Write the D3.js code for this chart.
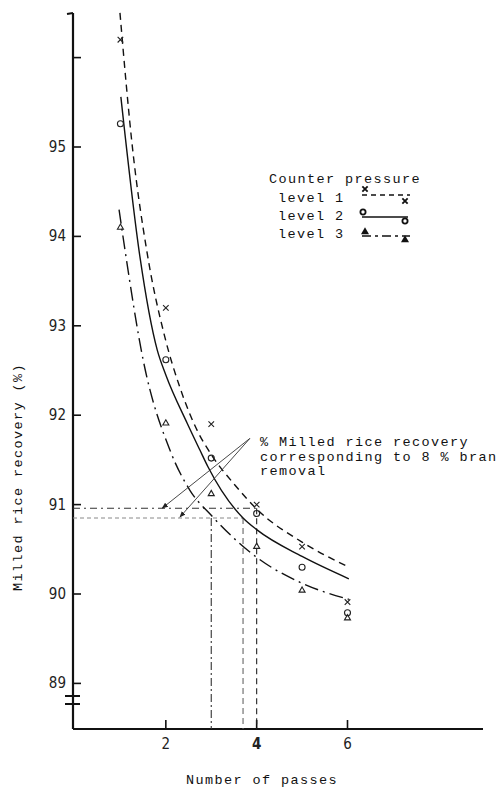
<!DOCTYPE html>
<html>
<head>
<meta charset="utf-8">
<script src="https://cdn.jsdelivr.net/npm/d3@7"></script>
<style>
  body { margin: 0; background: #fff; }
  svg { display: block; }
  .mono { font-family: "Liberation Mono", "Courier New", monospace; font-size: 13.5px; letter-spacing: 1.4px; fill: #111; }
  .tick-label { font-family: "DejaVu Sans Condensed", "DejaVu Sans", sans-serif; font-size: 15px; fill: #222; }
</style>
</head>
<body>
<script>
  // measured points
  var passes = [1, 2, 3, 4, 5, 6];
  var level1 = [96.2, 93.2, 91.9, 91.0, 90.53, 89.91];
  var level2 = [95.26, 92.62, 91.52, 90.9, 90.3, 89.79];
  var level3 = [94.1, 91.91, 91.12, 90.53, 90.04, 89.73];

  // fitted curves
  var curve1X = [0.99, 1.27, 1.59, 1.98, 2.31, 2.69, 3.0, 3.52, 4.0, 5.0, 6.03];
  var curve1Y = [96.5, 94.97, 93.81, 92.87, 92.31, 91.83, 91.56, 91.22, 90.95, 90.58, 90.3];
  var curve2X = [1.01, 1.43, 1.81, 2.0, 2.47, 2.75, 2.93, 3.7, 4.0, 5.0, 6.03];
  var curve2Y = [95.56, 93.77, 92.73, 92.45, 91.91, 91.61, 91.42, 90.85, 90.72, 90.42, 90.17];
  var curve3X = [0.97, 1.1, 1.5, 2.09, 2.53, 3.0, 4.0, 5.0, 6.03];
  var curve3Y = [94.3, 93.85, 92.62, 91.61, 91.16, 90.88, 90.41, 90.12, 89.94];

  // 8 % bran removal guides
  var branLevels = [90.96, 90.85];
  var branPasses = [4.0, 3.7, 3.0];
  var branFrom = [90.96, 90.85, 90.85];
  var arrowApex = [3.85, 91.74];
  var arrowEnds = [[1.92, 90.96], [2.31, 90.86]];

  var yTicks = [89, 90, 91, 92, 93, 94, 95, 96];
  var yLabels = ['89', '90', '91', '92', '93', '94', '95', ''];
  var xTicks = [2, 4, 6];

  var width = 500, height = 794;

  var svg = d3.select('body').append('svg')
    .attr('width', width)
    .attr('height', height);

  var x = d3.scaleLinear().domain([0, 6]).range([75, 347.5]);
  var y = d3.scaleLinear().domain([90, 95]).range([594, 147]);

  var axisX = 73, axisY = 729;

  // y axis
  svg.append('line')
    .attr('x1', axisX).attr('y1', 13)
    .attr('x2', axisX).attr('y2', axisY)
    .attr('stroke', '#111').attr('stroke-width', 2.2);
  svg.append('line')
    .attr('x1', axisX - 6).attr('y1', 14)
    .attr('x2', axisX).attr('y2', 13)
    .attr('stroke', '#111').attr('stroke-width', 2);

  // axis break
  [696, 704].forEach(function(by) {
    svg.append('line')
      .attr('x1', axisX - 8).attr('y1', by)
      .attr('x2', axisX + 7).attr('y2', by)
      .attr('stroke', '#111').attr('stroke-width', 2);
  });

  var yTick = svg.append('g').selectAll('g')
    .data(yTicks)
    .enter().append('g');

  yTick.append('line')
    .attr('x1', axisX).attr('x2', axisX + 8)
    .attr('y1', function(d) { return y(d); })
    .attr('y2', function(d) { return y(d); })
    .attr('stroke', '#111').attr('stroke-width', 1.6);

  yTick.append('text')
    .attr('class', 'tick-label')
    .attr('x', 66)
    .attr('y', function(d) { return y(d) + 5; })
    .attr('text-anchor', 'end')
    .text(function(d, i) { return yLabels[i]; });

  // x axis
  svg.append('line')
    .attr('x1', axisX).attr('y1', axisY)
    .attr('x2', 483).attr('y2', axisY)
    .attr('stroke', '#111').attr('stroke-width', 2.2);

  var xTick = svg.append('g').selectAll('g')
    .data(xTicks)
    .enter().append('g');

  xTick.append('line')
    .attr('x1', function(d) { return x(d); })
    .attr('x2', function(d) { return x(d); })
    .attr('y1', axisY).attr('y2', axisY - 9)
    .attr('stroke', '#111').attr('stroke-width', 1.6);

  xTick.append('text')
    .attr('class', 'tick-label')
    .attr('x', function(d) { return x(d); })
    .attr('y', 749)
    .attr('text-anchor', 'middle')
    .style('font-weight', function(d) { return d === 4 ? 'bold' : 'normal'; })
    .text(function(d) { return d; });

  // axis titles
  svg.append('text')
    .attr('class', 'mono')
    .attr('transform', 'translate(22,477) rotate(-90)')
    .attr('text-anchor', 'middle')
    .text('Milled rice recovery (%)');

  svg.append('text')
    .attr('class', 'mono')
    .attr('x', 262)
    .attr('y', 784)
    .attr('text-anchor', 'middle')
    .text('Number of passes');

  // guide lines for 8 % bran removal
  svg.append('line')
    .attr('x1', axisX).attr('x2', x(branPasses[0]))
    .attr('y1', y(branLevels[0])).attr('y2', y(branLevels[0]))
    .attr('stroke', '#333').attr('stroke-width', 1.1)
    .attr('stroke-dasharray', '7,4,2,4');
  svg.append('line')
    .attr('x1', axisX).attr('x2', x(branPasses[1]))
    .attr('y1', y(branLevels[1])).attr('y2', y(branLevels[1]))
    .attr('stroke', '#888').attr('stroke-width', 1)
    .attr('stroke-dasharray', '4,3');

  var vStyles = [
    { color: '#222', dash: '6,4' },
    { color: '#666', dash: '6,4' },
    { color: '#333', dash: '8,3,2,3' }
  ];
  branPasses.forEach(function(p, i) {
    svg.append('line')
      .attr('x1', x(p)).attr('x2', x(p))
      .attr('y1', y(branFrom[i])).attr('y2', axisY)
      .attr('stroke', vStyles[i].color).attr('stroke-width', 1.1)
      .attr('stroke-dasharray', vStyles[i].dash);
  });

  // fitted curves
  var line = d3.line()
    .x(function(d) { return x(d[0]); })
    .y(function(d) { return y(d[1]); })
    .curve(d3.curveMonotoneX);

  var curves = [
    { xs: curve1X, ys: curve1Y, dash: '7,5' },
    { xs: curve2X, ys: curve2Y, dash: null },
    { xs: curve3X, ys: curve3Y, dash: '14,5,2,5' }
  ];

  curves.forEach(function(c) {
    svg.append('path')
      .datum(d3.zip(c.xs, c.ys))
      .attr('d', line)
      .attr('fill', 'none')
      .attr('stroke', '#111')
      .attr('stroke-width', 1.4)
      .attr('stroke-dasharray', c.dash);
  });

  // measured markers
  svg.append('g').selectAll('path')
    .data(d3.zip(passes, level1))
    .enter().append('path')
    .attr('transform', function(d) { return 'translate(' + x(d[0]) + ',' + y(d[1]) + ')'; })
    .attr('d', d3.symbol(d3.symbolTimes, 22))
    .attr('fill', 'none').attr('stroke', '#222').attr('stroke-width', 1.1);

  svg.append('g').selectAll('circle')
    .data(d3.zip(passes, level2))
    .enter().append('circle')
    .attr('cx', function(d) { return x(d[0]); })
    .attr('cy', function(d) { return y(d[1]); })
    .attr('r', 3)
    .attr('fill', 'none').attr('stroke', '#222').attr('stroke-width', 1.1);

  svg.append('g').selectAll('path')
    .data(d3.zip(passes, level3))
    .enter().append('path')
    .attr('transform', function(d) { return 'translate(' + x(d[0]) + ',' + y(d[1]) + ')'; })
    .attr('d', d3.symbol(d3.symbolTriangle2, 26))
    .attr('fill', 'none').attr('stroke', '#222').attr('stroke-width', 1.1);

  // annotation arrows
  var defs = svg.append('defs');
  defs.append('marker')
    .attr('id', 'arrow')
    .attr('viewBox', '0 0 10 10')
    .attr('refX', 9).attr('refY', 5)
    .attr('markerWidth', 7).attr('markerHeight', 7)
    .attr('orient', 'auto')
    .append('path')
    .attr('d', 'M0,1 L10,5 L0,9 Z')
    .attr('fill', '#222');

  arrowEnds.forEach(function(e) {
    svg.append('line')
      .attr('x1', x(arrowApex[0])).attr('y1', y(arrowApex[1]))
      .attr('x2', x(e[0])).attr('y2', y(e[1]))
      .attr('stroke', '#333').attr('stroke-width', 0.9)
      .attr('marker-end', 'url(#arrow)');
  });

  var note = svg.append('text')
    .attr('class', 'mono')
    .attr('x', 260)
    .attr('y', 446);
  ['% Milled rice recovery', 'corresponding to 8 % bran', 'removal'].forEach(function(t, i) {
    note.append('tspan')
      .attr('x', 260)
      .attr('dy', i === 0 ? 0 : 14.5)
      .text(t);
  });

  // legend
  var legend = svg.append('g');
  legend.append('text')
    .attr('class', 'mono')
    .attr('x', 269).attr('y', 183)
    .text('Counter pressure');

  var legendRows = ['level 1', 'level 2', 'level 3'];
  var rowY = [202, 220, 238];
  legend.selectAll('text.row')
    .data(legendRows)
    .enter().append('text')
    .attr('class', 'mono row')
    .attr('x', 278)
    .attr('y', function(d, i) { return rowY[i]; })
    .text(function(d) { return d; });

  // level 1 key
  legend.append('line')
    .attr('x1', 362).attr('x2', 410).attr('y1', 195).attr('y2', 195)
    .attr('stroke', '#111').attr('stroke-width', 1.6).attr('stroke-dasharray', '5,4');
  legend.append('path')
    .attr('transform', 'translate(365,189)')
    .attr('d', d3.symbol(d3.symbolTimes, 20))
    .attr('stroke', '#111').attr('stroke-width', 1.8);
  legend.append('path')
    .attr('transform', 'translate(405,201)')
    .attr('d', d3.symbol(d3.symbolTimes, 20))
    .attr('stroke', '#111').attr('stroke-width', 1.8);

  // level 2 key
  legend.append('line')
    .attr('x1', 362).attr('x2', 408).attr('y1', 217).attr('y2', 217)
    .attr('stroke', '#111').attr('stroke-width', 1.6);
  legend.append('circle')
    .attr('cx', 363).attr('cy', 212).attr('r', 2.6)
    .attr('fill', 'none').attr('stroke', '#111').attr('stroke-width', 1.8);
  legend.append('circle')
    .attr('cx', 405).attr('cy', 221).attr('r', 2.6)
    .attr('fill', 'none').attr('stroke', '#111').attr('stroke-width', 1.8);

  // level 3 key
  legend.append('line')
    .attr('x1', 362).attr('x2', 410).attr('y1', 236).attr('y2', 236)
    .attr('stroke', '#111').attr('stroke-width', 1.6).attr('stroke-dasharray', '9,4,3,4');
  legend.append('path')
    .attr('transform', 'translate(365,232)')
    .attr('d', d3.symbol(d3.symbolTriangle, 28))
    .attr('fill', '#111');
  legend.append('path')
    .attr('transform', 'translate(405,240)')
    .attr('d', d3.symbol(d3.symbolTriangle, 28))
    .attr('fill', '#111');
</script>
</body>
</html>
